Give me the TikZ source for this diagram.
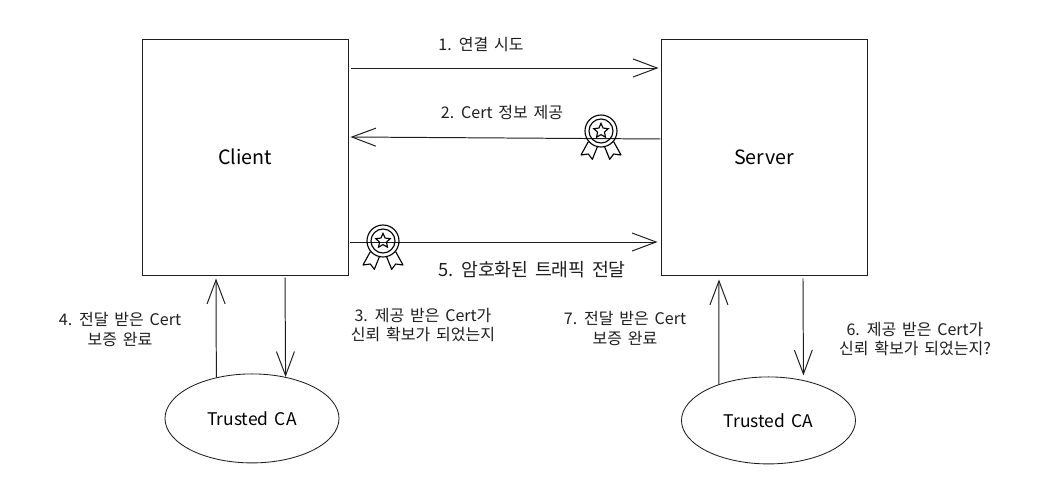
\documentclass[tikz,border=0pt]{standalone}
\usepackage{fontspec}
\setmainfont[WordSpace=1.6]{Noto Sans CJK KR}
\usetikzlibrary{arrows.meta, positioning, shapes.geometric}
\definecolor{inkline}{HTML}{1E1E1E}

\begin{document}
\begin{tikzpicture}[
  hostbox/.style={draw=inkline, line width=0.7pt, minimum width=5.15cm,
                  minimum height=5.9cm, align=center, font=\fontsize{14}{17}\selectfont},
  caoval/.style={draw=inkline, line width=0.6pt, ellipse, inner sep=0pt, minimum width=4.35cm,
                 align=center, font=\fontsize{12.4}{15}\selectfont},
  msg/.style={align=center, text=inkline, font=\fontsize{11.4}{14.2}\selectfont},
  link/.style={draw=inkline, line width=0.7pt, -{Straight Barb[length=6mm, width=4.5mm]}},
  medal/.pic={
    \draw[line width=0.8pt, black] (0,0) circle (0.4) (0,0) circle (0.3);
    \node[draw=black, line width=0.8pt, star, star points=5, star point ratio=2.1,
          inner sep=0pt, minimum size=0.38cm] (-star) at (0,0) {};
    \draw[line width=0.8pt, black, line join=round]
      (-0.317,-0.267) -- (-0.5,-0.6) -- (-0.317,-0.575) -- (-0.217,-0.708) -- (-0.083,-0.375)
      (0.317,-0.267) -- (0.5,-0.6) -- (0.317,-0.575) -- (0.217,-0.708) -- (0.083,-0.375);
  }
]
  \useasboundingbox (0,0) rectangle (26.125,12.375);

  % Hosts
  \node[hostbox] (client) at (6.125,8.45) {Client};
  \node[hostbox, right=7.8cm of client] (server) {Server};

  % Certificate authorities
  \node[caoval, minimum height=2.225cm, below=2.45cm of client, xshift=0.175cm] (caclient) {Trusted CA};
  \node[caoval, minimum height=2.175cm, below=2.525cm of server, xshift=0.1125cm] (caserver) {Trusted CA};

  % Messages
  \node[msg] (connect) at (12.025,11.25) {1. 연결 시도};
  \node[msg] (offer) at (12.55,9.575) {2. Cert 정보 제공};
  \node[msg, font=\fontsize{13}{16}\selectfont] (traffic) at (13.3,5.625) {5. 암호화된 트래픽 전달};
  \node[msg] (askclient) at (10.575,4.25) {3. 제공 받은 Cert가\\신뢰 확보가 되었는지};
  \node[msg] (okclient) at (3,4.1375) {4. 전달 받은 Cert\\보증 완료};
  \node[msg] (askserver) at (22.875,3.9) {6. 제공 받은 Cert가\\신뢰 확보가 되었는지?};
  \node[msg] (okserver) at (15.625,4.175) {7. 전달 받은 Cert\\보증 완료};

  % Edges
  \draw[link] ([xshift=0.075cm, yshift=2.225cm]client.east) -- ([xshift=-0.05cm, yshift=2.225cm]server.west);
  \draw[link] ([yshift=0.45cm]server.west) -- ([xshift=0.05cm, yshift=0.5cm]client.east);
  \draw[link] ([xshift=0.05cm, yshift=-2.125cm]client.east) -- ([xshift=-0.075cm, yshift=-2.125cm]server.west);
  \draw[link] (caclient.131) -- ([xshift=-0.725cm, yshift=-0.075cm]client.south);
  \draw[link] ([xshift=1cm, yshift=-0.05cm]client.south) -- (caclient.51);
  \draw[link] (caserver.144) -- ([xshift=-1.125cm, yshift=-0.1cm]server.south);
  \draw[link, shorten >=0.12cm] ([xshift=0.975cm, yshift=-0.075cm]server.south) -- (caserver.49);

  % Certificates
  \pic at (15.025,9.1) {medal};
  \pic at (9.575,6.35) {medal};
\end{tikzpicture}
\end{document}
